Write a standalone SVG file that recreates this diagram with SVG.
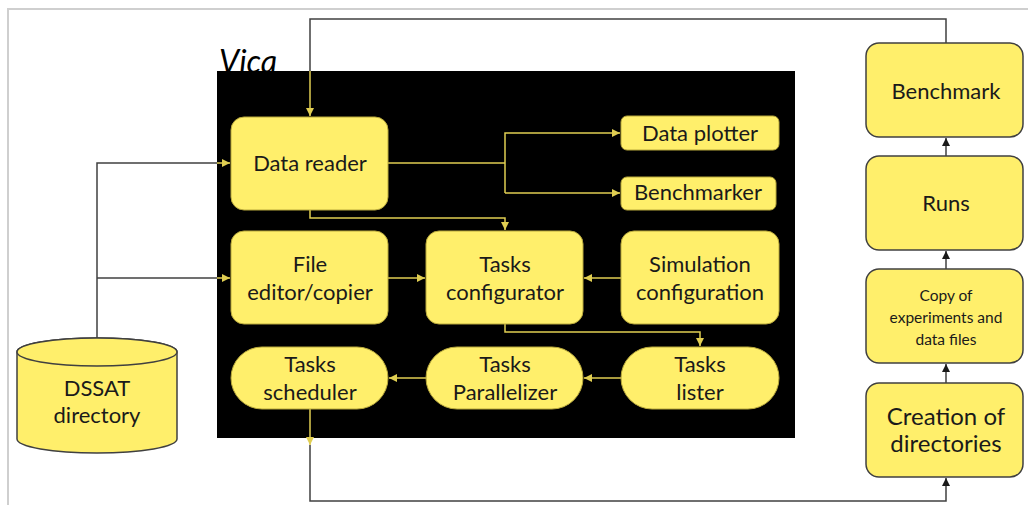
<svg xmlns="http://www.w3.org/2000/svg" width="1028" height="505" viewBox="0 0 1028 505">
<style>
.frame{fill:none;stroke:#cfcfcf;stroke-width:2}
.box{fill:#FFEF6B;stroke:#404040;stroke-width:1.5}
.ibox{fill:#FFEF6B;stroke:#b8a83c;stroke-width:1}
.t{font-family:Lato,"Open Sans",sans-serif;font-size:22px;fill:#1a1a1a;text-anchor:middle}
.s{font-size:15.5px}
.l{font-size:24px}
.ys{fill:none;stroke:#E0CE52;stroke-width:1.5}
.gs{fill:none;stroke:#404040;stroke-width:1.5}
</style>
<defs>
<marker id="ay" viewBox="0 0 10 10" refX="10" refY="5" markerWidth="8" markerHeight="8" markerUnits="userSpaceOnUse" orient="auto"><path d="M0,0 L10,5 L0,10 Z" fill="#E0CE52"/></marker>
<marker id="ak" viewBox="0 0 10 10" refX="10" refY="5" markerWidth="8" markerHeight="8" markerUnits="userSpaceOnUse" orient="auto"><path d="M0,0 L10,5 L0,10 Z" fill="#1a1a1a"/></marker>
</defs>
<rect x="0" y="0" width="1028" height="505" fill="#fff"/>
<path class="frame" d="M8,510 L8,9 L1030,9"/>
<text x="219" y="73" font-family="Lato,'Open Sans',sans-serif" font-style="italic" font-size="32" fill="#000">Vica</text>
<rect id="vica" x="217" y="71" width="578" height="367" fill="#000"/>

<g id="connectors">
  <path class="gs" d="M946,43 L946,19 L310,19 L310,71"/>
  <path class="ys" d="M310,71 L310,116" marker-end="url(#ay)"/>
  <path class="gs" d="M97,338 L97,163 L217,163"/>
  <path class="ys" d="M217,163 L230,163" marker-end="url(#ay)"/>
  <path class="gs" d="M97,278 L217,278"/>
  <path class="ys" d="M217,278 L230,278" marker-end="url(#ay)"/>
  <path class="ys" d="M388,163 L505,163"/>
  <path class="ys" d="M505,193 L505,133 L620,133" marker-end="url(#ay)"/>
  <path class="ys" d="M505,193 L620,193" marker-end="url(#ay)"/>
  <path class="ys" d="M310,210 L310,218 L505,218 L505,230" marker-end="url(#ay)"/>
  <path class="ys" d="M388,278 L425,278" marker-end="url(#ay)"/>
  <path class="ys" d="M621,278 L584,278" marker-end="url(#ay)"/>
  <path class="ys" d="M505,324 L505,332 L700,332 L700,346" marker-end="url(#ay)"/>
  <path class="ys" d="M621,378 L584,378" marker-end="url(#ay)"/>
  <path class="ys" d="M426,378 L389,378" marker-end="url(#ay)"/>
  <path class="ys" d="M310,409 L310,445" marker-end="url(#ay)"/>
  <path class="gs" d="M310,445 L310,501 L946,501 L946,478" marker-end="url(#ak)"/>
  <path class="gs" d="M946,383 L946,364" marker-end="url(#ak)"/>
  <path class="gs" d="M946,269 L946,251" marker-end="url(#ak)"/>
  <path class="gs" d="M946,156 L946,138" marker-end="url(#ak)"/>
</g>

<g id="dssat">
  <path class="box" d="M17,352 L17,439 A80,14 0 0 0 177,439 L177,352 A80,14 0 0 0 17,352 Z"/>
  <ellipse class="box" cx="97" cy="352" rx="80" ry="14"/>
  <text class="t" x="97" y="396">DSSAT</text>
  <text class="t" x="97" y="423">directory</text>
</g>

<g id="data-reader">
  <rect class="ibox" x="231" y="117" width="157" height="93" rx="13"/>
  <text class="t" x="310" y="171">Data reader</text>
</g>
<g id="file-editor">
  <rect class="ibox" x="231" y="231" width="157" height="93" rx="13"/>
  <text class="t" x="310" y="272">File</text>
  <text class="t" x="310" y="300">editor/copier</text>
</g>
<g id="tasks-configurator">
  <rect class="ibox" x="426" y="231" width="157" height="93" rx="13"/>
  <text class="t" x="505" y="272">Tasks</text>
  <text class="t" x="505" y="300">configurator</text>
</g>
<g id="simulation-configuration">
  <rect class="ibox" x="621" y="231" width="158" height="93" rx="13"/>
  <text class="t" x="700" y="272">Simulation</text>
  <text class="t" x="700" y="300">configuration</text>
</g>
<g id="data-plotter">
  <rect class="ibox" x="621" y="116" width="158" height="34" rx="6"/>
  <text class="t" x="700" y="141">Data plotter</text>
</g>
<g id="benchmarker">
  <rect class="ibox" x="621" y="177" width="155" height="33" rx="6"/>
  <text class="t" x="698" y="200">Benchmarker</text>
</g>
<g id="tasks-scheduler">
  <rect class="ibox" x="231" y="347" width="157" height="62" rx="31"/>
  <text class="t" x="310" y="372">Tasks</text>
  <text class="t" x="310" y="400">scheduler</text>
</g>
<g id="tasks-parallelizer">
  <rect class="ibox" x="426" y="347" width="157" height="62" rx="31"/>
  <text class="t" x="505" y="372">Tasks</text>
  <text class="t" x="505" y="400">Parallelizer</text>
</g>
<g id="tasks-lister">
  <rect class="ibox" x="621" y="347" width="158" height="62" rx="31"/>
  <text class="t" x="700" y="372">Tasks</text>
  <text class="t" x="700" y="400">lister</text>
</g>

<g id="benchmark">
  <rect class="box" x="866" y="43" width="157" height="94" rx="13"/>
  <text class="t" x="946" y="99">Benchmark</text>
</g>
<g id="runs">
  <rect class="box" x="866" y="156" width="157" height="94" rx="13"/>
  <text class="t" x="946" y="211">Runs</text>
</g>
<g id="copy">
  <rect class="box" x="866" y="269" width="157" height="94" rx="13"/>
  <text class="t s" x="946" y="301">Copy of</text>
  <text class="t s" x="946" y="323">experiments and</text>
  <text class="t s" x="946" y="345">data files</text>
</g>
<g id="creation">
  <rect class="box" x="866" y="383" width="157" height="94" rx="13"/>
  <text class="t l" x="946" y="425">Creation of</text>
  <text class="t l" x="946" y="452">directories</text>
</g>
</svg>
